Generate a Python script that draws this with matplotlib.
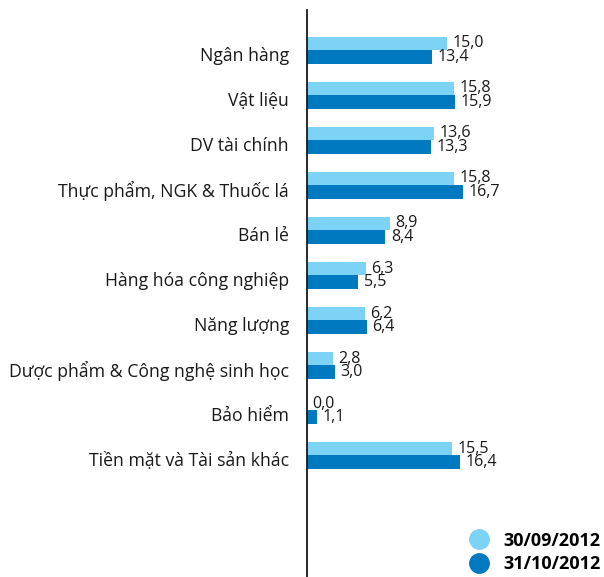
import matplotlib.pyplot as plt
from matplotlib.lines import Line2D
from matplotlib.transforms import ScaledTranslation

plt.rcParams['font.family'] = ['Open Sans', 'DejaVu Sans']

sectors = [
    "Ngân hàng",
    "Vật liệu",
    "DV tài chính",
    "Thực phẩm, NGK & Thuốc lá",
    "Bán lẻ",
    "Hàng hóa công nghiệp",
    "Năng lượng",
    "Dược phẩm & Công nghệ sinh học",
    "Bảo hiểm",
    "Tiền mặt và Tài sản khác",
]
sep_2012 = [15.0, 15.8, 13.6, 15.8, 8.9, 6.3, 6.2, 2.8, 0.0, 15.5]
oct_2012 = [13.4, 15.9, 13.3, 16.7, 8.4, 5.5, 6.4, 3.0, 1.1, 16.4]
series_names = ["30/09/2012", "31/10/2012"]

light = "#7dd3f5"
dark = "#0079c1"
bar_h = 0.3

fig = plt.figure(figsize=(6.04, 5.77), dpi=100)
ax = fig.add_axes([307 / 604, 0, 1 - 307 / 604, 567 / 577])

ys = list(range(len(sectors)))
ax.barh([y - bar_h / 2 for y in ys], sep_2012, height=bar_h, color=light)
ax.barh([y + bar_h / 2 for y in ys], oct_2012, height=bar_h, color=dark)


def fmt(v):
    return f"{v:.1f}".replace(".", ",")


for y, a, b in zip(ys, sep_2012, oct_2012):
    ax.annotate(fmt(a), (a, y - bar_h / 2), xytext=(4, 0), textcoords="offset points",
                va="center", ha="left", fontsize=11.5, color="#1a1a1a")
    ax.annotate(fmt(b), (b, y + bar_h / 2), xytext=(4, 0), textcoords="offset points",
                va="center", ha="left", fontsize=11.5, color="#1a1a1a")

ax.set_xlim(0, 297 / 9.33)
ax.set_ylim(11.7, -0.89)
ax.set_yticks(ys)
ax.set_yticklabels(sectors, fontsize=12.7, color="#1a1a1a")
ax.tick_params(axis="y", length=0, pad=13)
# nudge sector names a few pixels down
shift = ScaledTranslation(0, -4 / 100, fig.dpi_scale_trans)
for lbl in ax.get_yticklabels():
    lbl.set_transform(lbl.get_transform() + shift)
ax.set_xticks([])
for side in ("top", "right", "bottom"):
    ax.spines[side].set_visible(False)
ax.spines["left"].set_linewidth(1.3)
ax.spines["left"].set_color("#1a1a1a")

handles = [
    Line2D([], [], marker="o", linestyle="none", markersize=14, color=light),
    Line2D([], [], marker="o", linestyle="none", markersize=14, color=dark),
]
fig.legend(handles, series_names, loc="lower right", bbox_to_anchor=(1.012, -0.012),
           frameon=False, prop={"weight": "bold", "size": 13}, handletextpad=0.35,
           labelspacing=0.3, borderaxespad=0.2)

fig.savefig("out.png", dpi=100)
